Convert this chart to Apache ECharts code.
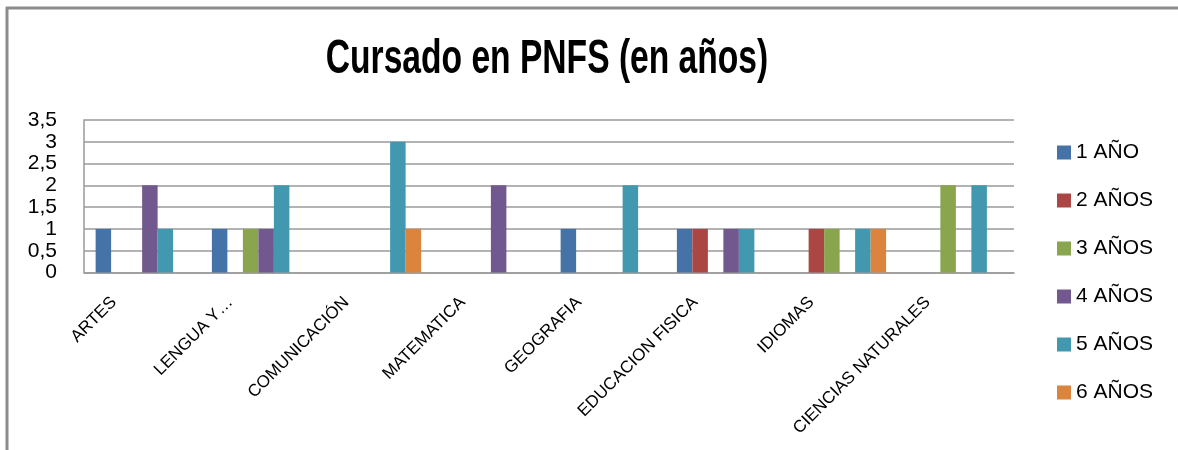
<!DOCTYPE html>
<html>
<head>
<meta charset="utf-8">
<script src="https://cdn.jsdelivr.net/npm/echarts@6/dist/echarts.min.js"></script>
<style>html,body{margin:0;padding:0;background:#fff;}#c{width:1178px;height:450px;}</style>
</head>
<body>
<div id="c"></div>
<script>
const titleText = 'Cursado en PNFS (en años)';
const categories = ['ARTES', 'LENGUA Y…', 'COMUNICACIÓN', 'MATEMATICA', 'GEOGRAFIA', 'EDUCACION FISICA', 'IDIOMAS', 'CIENCIAS NATURALES'];
const seriesNames = ['1 AÑO', '2 AÑOS', '3 AÑOS', '4 AÑOS', '5 AÑOS', '6 AÑOS'];
const anio1 = [1, 1, 0, 0, 1, 1, 0, 0];
const anio2 = [0, 0, 0, 0, 0, 1, 1, 0];
const anio3 = [0, 1, 0, 0, 0, 0, 1, 2];
const anio4 = [2, 1, 0, 2, 0, 1, 0, 0];
const anio5 = [1, 2, 3, 0, 2, 1, 1, 2];
const anio6 = [0, 0, 1, 0, 0, 0, 1, 0];
const yTicks = { min: 0, max: 3.5, interval: 0.5 };
const colors = ['#4572A7', '#AA4643', '#89A54E', '#71588F', '#4198AF', '#DB843D'];

const seriesValues = [anio1, anio2, anio3, anio4, anio5, anio6];
const chart = echarts.init(document.getElementById('c'), null, { renderer: 'canvas' });
chart.setOption({
  animation: false,
  backgroundColor: '#ffffff',
  color: colors,
  legend: {
    orient: 'vertical',
    left: 1057,
    top: 142,
    padding: 0,
    itemWidth: 14,
    itemHeight: 14,
    itemGap: 27,
    icon: 'rect',
    textStyle: { fontFamily: 'Liberation Sans', fontSize: 21, color: '#000' },
    data: seriesNames
  },
  grid: { left: 84, right: 164, top: 120, bottom: 177.5, containLabel: false },
  xAxis: {
    type: 'category',
    data: categories,
    axisLine: { show: true, lineStyle: { color: '#9a9a9a', width: 1.5 } },
    axisTick: { show: false },
    axisLabel: {
      interval: 0,
      rotate: 45,
      margin: -1,
      padding: [0, 40, 0, 0],
      fontFamily: 'Liberation Sans',
      fontSize: 17,
      color: '#000'
    }
  },
  yAxis: {
    type: 'value',
    min: yTicks.min,
    max: yTicks.max,
    interval: yTicks.interval,
    axisLine: { show: true, lineStyle: { color: '#9a9a9a', width: 1.5 } },
    axisTick: { show: false },
    splitLine: { show: true, lineStyle: { color: '#9a9a9a', width: 1.5 } },
    axisLabel: {
      margin: 27,
      fontFamily: 'Liberation Sans',
      fontSize: 21,
      color: '#000',
      formatter: v => String(v).replace('.', ',')
    }
  },
  graphic: [
    { type: 'line', shape: { x1: 6, y1: 8, x2: 1178, y2: 8 }, style: { stroke: '#8c8c8c', lineWidth: 3 } },
    { type: 'line', shape: { x1: 7, y1: 7, x2: 7, y2: 450 }, style: { stroke: '#8c8c8c', lineWidth: 3 } },
    {
      type: 'text',
      x: 547,
      y: 60,
      scaleX: 0.7,
      style: {
        text: titleText,
        x: 0,
        y: 0,
        align: 'center',
        verticalAlign: 'middle',
        fontFamily: 'Liberation Sans',
        fontWeight: 'bold',
        fontSize: 48,
        fill: '#000'
      }
    }
  ],
  series: seriesNames.map((n, i) => ({
    name: n,
    type: 'bar',
    data: seriesValues[i],
    barGap: '0%',
    barCategoryGap: '20%'
  }))
});
</script>
</body>
</html>
